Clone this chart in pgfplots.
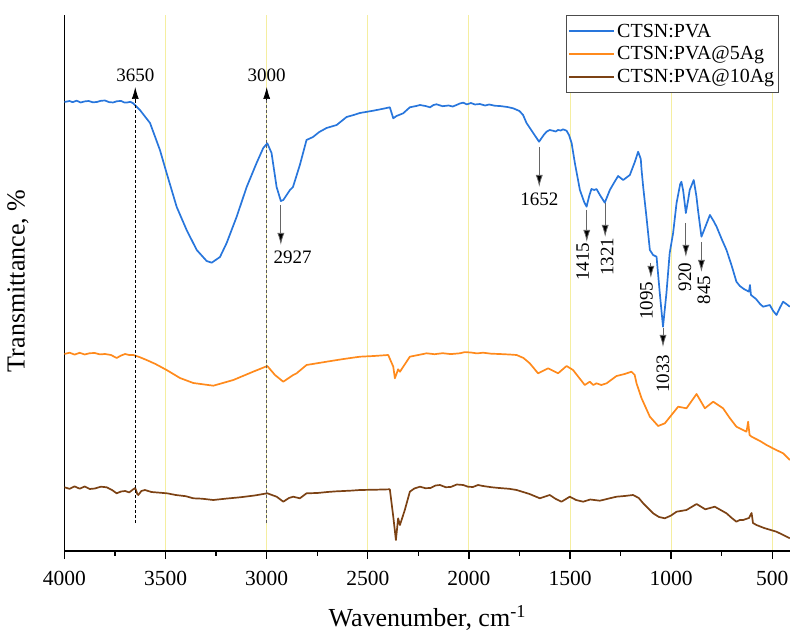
\documentclass[border=0pt]{standalone}
\usepackage{fontspec}
\setmainfont{Liberation Serif}
\usepackage{pgfplots}
\pgfplotsset{compat=1.18}
\usetikzlibrary{arrows.meta}
\definecolor{cblue}{RGB}{40,118,220}
\definecolor{corange}{RGB}{255,138,28}
\definecolor{cbrown}{RGB}{124,66,20}
\definecolor{gridyellow}{RGB}{245,238,160}
\newcommand{\annot}{\fontsize{19}{22}\selectfont}
\begin{document}
\begin{tikzpicture}
\path[use as bounding box] (0,0) rectangle (790pt,635pt);
\begin{axis}[at={(64.5pt,84pt)}, anchor=south west, scale only axis,
  width=725.5pt, height=536pt, x dir=reverse,
  xmin=412, xmax=4000, ymin=0, ymax=536, clip=false,
  axis x line=bottom, axis y line=left,
  axis line style={line width=1.8pt, -},
  ytick=\empty, xtick={4000,3500,...,500}, minor x tick num=1,
  tick align=outside, major tick length=8pt, minor tick length=4.5pt,
  tick style={line width=1.4pt, black},
  xmajorgrids, major grid style={color=gridyellow, line width=0.9pt},
  /pgf/number format/assume math mode=true,
  /pgf/number format/set thousands separator={},
  ticklabel style={font=\fontsize{21.5}{24}\selectfont},
  xticklabel style={yshift=-9pt},
  xlabel={Wavenumber, cm\textsuperscript{-1}},
  ylabel={Transmittance, \%},
  label style={font=\fontsize{26}{30}\selectfont},
  xlabel style={at={(axis description cs:0.5,-0.125)}, anchor=center},
  ylabel style={at={(axis description cs:-0.064,0.504)}, anchor=center},
  legend style={at={(rel axis cs:0.985,1)}, anchor=north east,
    font=\fontsize{20}{23}\selectfont, draw=black!70, line width=0.8pt,
    inner xsep=2pt, inner ysep=6pt, row sep=3pt, cells={anchor=west},
    nodes={inner sep=2.5pt}},
  legend image code/.code={\draw[#1, line width=1.8pt] (0pt,0pt) -- (45pt,0pt);},
  every axis plot/.append style={line width=1.7pt, line join=round},
]
\addplot[cblue] coordinates {(4000,449)(3975,450)(3960,448.8)(3940,450.3)(3920,448.5)(3900,449.6)(3880,450)(3860,448.7)(3840,449)(3820,450.2)(3800,450.5)(3780,448.9)(3760,448.5)(3740,449.8)(3720,450)(3705,448.6)(3690,448.5)(3675,449.2)(3660,447.7)(3627,441)(3577,428)(3528,401)(3495,378)(3445,344)(3396,321)(3346,301)(3297,290)(3272,288.3)(3231,294)(3198,308)(3149,334)(3099,364)(3050,388)(3017,403)(2997,407.7)(2976,398)(2951,364)(2930,350)(2918,351)(2885,361)(2870,364)(2836,386)(2803,411)(2771,414)(2740,419)(2704,423)(2654,426)(2605,434)(2570,436)(2539,438)(2473,440.3)(2430,442)(2391,443.7)(2374,432.7)(2358,435)(2325,437.7)(2292,443.7)(2260,445)(2242,446)(2215,445)(2192,443.7)(2175,446)(2160,446.7)(2130,444.8)(2100,445.5)(2080,444.5)(2061,446)(2045,447.5)(2028,448.3)(2010,446.6)(1990,448)(1970,446.5)(1946,447)(1920,445.5)(1900,446.5)(1870,445.2)(1847,445)(1810,444)(1781,442.7)(1750,440)(1732,436)(1715,428)(1682,418)(1653,409.3)(1630,416)(1616,419.3)(1600,421)(1585,420.3)(1570,419.5)(1560,421)(1545,420.5)(1535,421.7)(1517,420.3)(1505,416)(1492,408)(1476,388)(1451,361)(1430,349)(1418,344.3)(1405,355)(1394,362)(1380,361)(1369,362)(1352,356)(1328,348.3)(1303,361)(1280,369)(1262,375)(1237,371)(1204,376)(1179,389.3)(1163,399.3)(1150,392)(1146,381)(1138,364)(1122,334.3)(1105,301)(1089,296)(1072,294.3)(1056,258)(1040,224.3)(1023,258)(1007,298)(990,318)(973,348)(955,367)(949,369.3)(940,360)(927,338)(915,352)(908,361)(888,371)(875,355)(867,341)(850,314.3)(833,323)(808,336)(790,330)(775,324.3)(750,312)(726,301)(700,285)(677,269.3)(660,265)(640,262)(615,259.3)(610,266)(605,256)(580,252)(560,247)(545,244.3)(512,246)(495,240)(479,236)(460,244)(446,249.3)(430,247)(413,244.3)};
\addlegendentry{CTSN:PVA}
\addplot[corange] coordinates {(4000,197)(3975,198.3)(3950,196.4)(3925,198.2)(3900,196.5)(3875,197.8)(3850,198)(3825,196.6)(3800,197)(3770,196)(3742,193)(3720,195.5)(3700,197)(3680,196)(3660,196)(3630,194)(3594,191)(3550,187)(3495,181)(3429,173)(3363,168)(3264,165.3)(3165,171)(3067,179.3)(2997,185)(2959,176)(2918,169.3)(2869,176)(2852,177.7)(2803,186)(2704,189.3)(2620,192)(2539,194.3)(2470,195)(2399,196)(2374,184.3)(2366,172.7)(2350,181.7)(2341,179.3)(2292,194.3)(2209,197.7)(2170,196.8)(2130,197.8)(2090,196.9)(2045,197.7)(2020,198.9)(1990,198.5)(1960,197.6)(1930,198.3)(1890,197.3)(1850,197)(1800,196.5)(1764,196)(1730,193)(1699,187.7)(1658,177.7)(1608,182.7)(1559,177.7)(1517,185)(1485,181)(1427,166)(1402,169.3)(1385,166)(1369,167.7)(1345,166)(1319,167.7)(1270,175)(1230,177)(1196,179.3)(1180,176)(1171,167.7)(1146,152.7)(1105,134.3)(1064,125)(1031,127.7)(965,144.3)(924,142.7)(874,157)(833,142.7)(792,149.3)(743,142.7)(710,133)(677,124.3)(627,119.3)(619,129.3)(612,116)(602,114.3)(560,110)(528,106)(490,102)(446,97.7)(413,91)};
\addlegendentry{CTSN:PVA@5Ag}
\addplot[cbrown] coordinates {(4000,63.7)(3975,62.2)(3950,64.6)(3925,62.3)(3900,64.5)(3875,62)(3850,62.5)(3820,64.3)(3791,63.7)(3765,61)(3742,57.7)(3720,59.5)(3700,60)(3680,58.6)(3660,61.7)(3650,63)(3640,57)(3635,56)(3620,60)(3602,61)(3570,59)(3528,58.3)(3490,57.6)(3450,56)(3400,54.8)(3363,52.7)(3320,52.3)(3264,51)(3200,52.4)(3132,53.7)(3060,55.5)(2997,57.7)(2951,54.3)(2918,49.3)(2890,53)(2869,54.3)(2836,52.7)(2803,57.7)(2750,58)(2700,59)(2660,59.6)(2620,60)(2580,60.4)(2539,61)(2460,61.3)(2391,61.7)(2374,34.3)(2361,11)(2350,32.7)(2341,26)(2317,41)(2292,59.3)(2270,62.5)(2242,64.3)(2215,62.8)(2190,63)(2165,65.5)(2143,66)(2115,63.8)(2090,64)(2060,66.5)(2028,66)(2005,64.3)(1980,64)(1955,66)(1930,65)(1890,63.8)(1850,63)(1800,62.2)(1764,61)(1700,57)(1649,52.7)(1600,56)(1570,52)(1542,49.3)(1501,54.3)(1470,51)(1435,49.3)(1400,51.5)(1352,50.3)(1310,52.4)(1270,54.3)(1230,55)(1188,56)(1160,53)(1138,47.7)(1110,42)(1089,37.7)(1060,34)(1031,32.7)(1000,35.5)(973,39.3)(924,41)(874,47)(831,41.7)(784,44.3)(755,41)(726,37.7)(700,33)(677,29.3)(660,31)(644,31)(615,33)(602,38)(595,28)(578,26)(540,23)(479,19.3)(440,15.5)(413,12.7)};
\addlegendentry{CTSN:PVA@10Ag}
% annotations
\draw[black, line width=0.7pt, dash pattern=on 3pt off 2pt] (axis cs:3650,28) -- (axis cs:3650,455);
\draw[black, line width=0.7pt, -{Latex[length=12pt,width=7pt]}] (axis cs:3650,452) -- (axis cs:3650,464);
\node[font=\annot] at (axis cs:3650,476) {3650};
\draw[black!65, line width=0.8pt, dash pattern=on 3pt off 2pt] (axis cs:3000,28) -- (axis cs:3000,455);
\draw[black, line width=0.7pt, -{Latex[length=12pt,width=7pt]}] (axis cs:3000,452) -- (axis cs:3000,464);
\node[font=\annot] at (axis cs:3000,476) {3000};
\draw[black!60, line width=0.8pt, -{Latex[length=12pt,width=7pt,fill=black]}] (axis cs:2930,346) -- (axis cs:2930,306);
\node[font=\annot] at (axis cs:2872,294) {2927};
\draw[black!60, line width=0.8pt, -{Latex[length=12pt,width=7pt,fill=black]}] (axis cs:1652,404) -- (axis cs:1652,364);
\node[font=\annot] at (axis cs:1652,352) {1652};
\draw[black!60, line width=0.8pt, -{Latex[length=12pt,width=7pt,fill=black]}] (axis cs:1417,341) -- (axis cs:1417,309);
\node[font=\annot, rotate=90] at (axis cs:1437,289) {1415};
\draw[black!60, line width=0.8pt, -{Latex[length=12pt,width=7pt,fill=black]}] (axis cs:1326,348) -- (axis cs:1326,314);
\node[font=\annot, rotate=90] at (axis cs:1316,294) {1321};
\draw[black!60, line width=0.8pt, -{Latex[length=12pt,width=7pt,fill=black]}] (axis cs:1100,288) -- (axis cs:1100,273);
\node[font=\annot, rotate=90] at (axis cs:1122,250) {1095};
\draw[black!60, line width=0.8pt, -{Latex[length=12pt,width=7pt,fill=black]}] (axis cs:1040,223) -- (axis cs:1040,204);
\node[font=\annot, rotate=90] at (axis cs:1040,177) {1033};
\draw[black!60, line width=0.8pt, -{Latex[length=12pt,width=7pt,fill=black]}] (axis cs:927,328) -- (axis cs:927,294);
\node[font=\annot, rotate=90] at (axis cs:932,274) {920};
\draw[black!60, line width=0.8pt, -{Latex[length=12pt,width=7pt,fill=black]}] (axis cs:850,309) -- (axis cs:850,279);
\node[font=\annot, rotate=90] at (axis cs:838,261) {845};
\end{axis}
\end{tikzpicture}
\end{document}
